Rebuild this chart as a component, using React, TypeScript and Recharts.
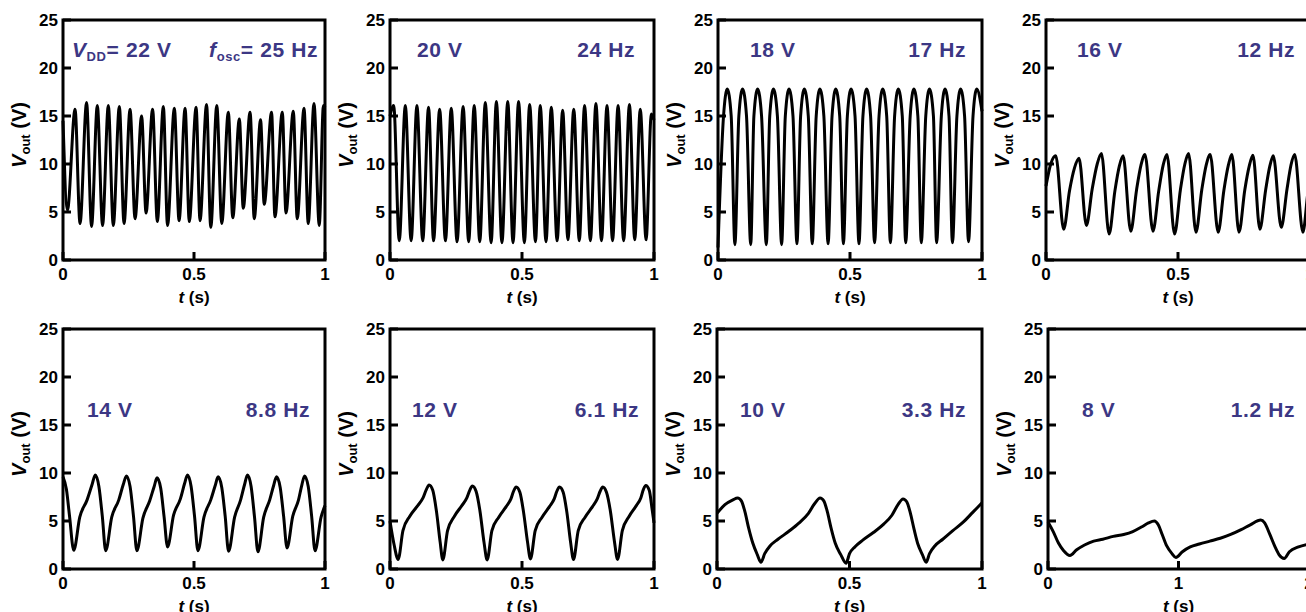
import React from "react";
import { LineChart, Line, XAxis, YAxis, ReferenceArea } from "recharts";

type Pt = [number, number];

// axis ticks
const yTicks = [0, 5, 10, 15, 20, 25];
const tTicks1 = [0, 0.5, 1];
const tTicks2 = [0, 1, 2];

// panel annotations
const vddLabels = ["22 V", "20 V", "18 V", "16 V", "14 V", "12 V", "10 V", "8 V"];
const foscLabels = ["25 Hz", "24 Hz", "17 Hz", "12 Hz", "8.8 Hz", "6.1 Hz", "3.3 Hz", "1.2 Hz"];

// Vout(t) traces, [t (s), V]
const v22: Pt[] = [
  [0, 14.5], [0.017, 5.2], [0.046, 15.7], [0.065, 3.8], [0.09, 16.4], [0.109, 3.5],
  [0.131, 16.1], [0.151, 3.6], [0.173, 16.1], [0.192, 3.6], [0.215, 16.0], [0.233, 3.8],
  [0.256, 15.7], [0.275, 4.3], [0.3, 15.0], [0.317, 4.9], [0.342, 15.7], [0.36, 4.0],
  [0.383, 16.0], [0.399, 3.6], [0.425, 15.8], [0.443, 4.1], [0.466, 15.8], [0.482, 4.0],
  [0.508, 15.9], [0.523, 4.1], [0.548, 16.2], [0.564, 3.4], [0.587, 16.1], [0.606, 3.8],
  [0.631, 15.4], [0.648, 4.4], [0.673, 14.7], [0.688, 5.4], [0.714, 15.4], [0.73, 4.3],
  [0.754, 14.6], [0.768, 5.8], [0.796, 15.4], [0.809, 4.5], [0.837, 15.4], [0.851, 4.9],
  [0.879, 15.5], [0.894, 4.3], [0.92, 15.8], [0.936, 3.8], [0.958, 16.3], [0.978, 3.6],
  [0.994, 16.1], [1.0, 15.9],
];

const v20: Pt[] = [
  [0, 15.0], [0.014, 16.1], [0.035, 2.0], [0.058, 16.1], [0.08, 2.0], [0.102, 16.1],
  [0.124, 2.0], [0.146, 15.9], [0.165, 2.0], [0.188, 15.7], [0.21, 2.0], [0.232, 15.8],
  [0.254, 1.9], [0.277, 16.0], [0.298, 1.9], [0.319, 16.1], [0.34, 1.9], [0.361, 16.4],
  [0.383, 1.8], [0.403, 16.5], [0.424, 1.8], [0.446, 16.5], [0.466, 1.8], [0.487, 16.5],
  [0.509, 1.8], [0.529, 16.2], [0.551, 1.9], [0.569, 16.1], [0.591, 1.9], [0.611, 15.9],
  [0.633, 2.0], [0.654, 15.6], [0.674, 2.1], [0.696, 15.7], [0.717, 2.0], [0.737, 16.1],
  [0.759, 2.0], [0.78, 16.3], [0.801, 2.0], [0.822, 16.1], [0.843, 2.0], [0.864, 16.1],
  [0.885, 2.0], [0.907, 16.2], [0.927, 2.1], [0.948, 15.7], [0.97, 2.1], [0.99, 15.2],
  [1.0, 14.6],
];

const v18: Pt[] = [
  [0, 1.3], [0.021, 15.0], [0.035, 17.8], [0.05, 15.0], [0.064, 1.6], [0.079, 15.0],
  [0.093, 17.8], [0.108, 15.0], [0.124, 1.6], [0.136, 15.0], [0.15, 17.8], [0.165, 15.0],
  [0.183, 1.6], [0.196, 15.0], [0.21, 17.8], [0.225, 15.0], [0.241, 1.6], [0.255, 15.0],
  [0.269, 17.8], [0.284, 15.0], [0.299, 1.7], [0.313, 15.0], [0.327, 17.8], [0.342, 15.0],
  [0.357, 1.7], [0.372, 15.0], [0.386, 17.8], [0.401, 15.0], [0.417, 1.7], [0.432, 15.0],
  [0.446, 17.8], [0.461, 15.0], [0.475, 1.7], [0.49, 15.0], [0.504, 17.8], [0.519, 15.0],
  [0.534, 1.7], [0.549, 15.0], [0.563, 17.8], [0.578, 15.0], [0.593, 1.8], [0.61, 15.0],
  [0.624, 17.8], [0.639, 15.0], [0.653, 1.8], [0.669, 15.0], [0.683, 17.8], [0.698, 15.0],
  [0.711, 1.8], [0.728, 15.0], [0.742, 17.8], [0.757, 15.0], [0.77, 1.8], [0.787, 15.0],
  [0.801, 17.8], [0.816, 15.0], [0.828, 1.8], [0.846, 15.0], [0.86, 17.8], [0.875, 15.0],
  [0.888, 1.8], [0.905, 15.0], [0.919, 17.8], [0.934, 15.0], [0.949, 1.9], [0.966, 15.0],
  [0.98, 17.8], [1.0, 15.5],
];

const v16: Pt[] = [
  [0, 7.7], [0.018, 10.0], [0.037, 10.85], [0.067, 3.2],
  [0.089, 7.2], [0.108, 9.6], [0.125, 10.6], [0.153, 3.6],
  [0.175, 7.4], [0.194, 10.0], [0.21, 11.1], [0.239, 2.7],
  [0.261, 7.2], [0.278, 9.8], [0.292, 10.85], [0.321, 3.0],
  [0.343, 7.3], [0.36, 9.9], [0.375, 11.0], [0.405, 3.0],
  [0.427, 7.2], [0.444, 9.9], [0.458, 11.0], [0.487, 2.7],
  [0.509, 7.3], [0.526, 10.0], [0.54, 11.1], [0.568, 2.9],
  [0.59, 7.3], [0.607, 9.9], [0.622, 11.0], [0.652, 2.9],
  [0.674, 7.3], [0.691, 9.9], [0.704, 11.0], [0.731, 2.9],
  [0.753, 7.3], [0.77, 9.8], [0.784, 10.9], [0.81, 3.2],
  [0.832, 7.3], [0.848, 9.8], [0.861, 10.85], [0.891, 3.4],
  [0.913, 7.4], [0.928, 9.9], [0.942, 11.0], [0.973, 2.9],
  [0.993, 7.2], [1.0, 8.2],
];

const v14: Pt[] = [
  [0, 9.6], [0.013, 8.3], [0.025, 5.5], [0.041, 1.95],
  [0.064, 5.4], [0.092, 7.2], [0.111, 8.8], [0.123, 9.8], [0.137, 8.6], [0.15, 5.5], [0.163, 1.9],
  [0.186, 5.4], [0.213, 7.2], [0.23, 8.8], [0.242, 9.7], [0.256, 8.6], [0.269, 5.5], [0.282, 1.9],
  [0.305, 5.3], [0.331, 7.1], [0.348, 8.6], [0.359, 9.5], [0.373, 8.4], [0.386, 5.4], [0.399, 2.3],
  [0.422, 5.6], [0.448, 7.3], [0.464, 8.9], [0.475, 9.8], [0.489, 8.6], [0.502, 5.5], [0.515, 1.9],
  [0.538, 5.4], [0.564, 7.2], [0.581, 8.7], [0.592, 9.6], [0.606, 8.5], [0.619, 5.5], [0.632, 1.85],
  [0.655, 5.4], [0.678, 7.2], [0.693, 8.8], [0.704, 9.8], [0.718, 8.6], [0.731, 5.4], [0.744, 1.8],
  [0.766, 5.4], [0.789, 7.2], [0.804, 8.7], [0.815, 9.6], [0.829, 8.5], [0.842, 5.5], [0.855, 2.2],
  [0.877, 5.5], [0.899, 7.2], [0.912, 8.8], [0.922, 9.7], [0.936, 8.6], [0.949, 5.5], [0.962, 1.9],
  [0.985, 5.4], [1.0, 6.6],
];

const v12: Pt[] = [
  [0, 5.0], [0.015, 2.6], [0.031, 1.0],
  [0.049, 4.0], [0.075, 5.5], [0.105, 6.6], [0.125, 7.4], [0.138, 8.3], [0.148, 8.75], [0.162, 8.2], [0.176, 6.0], [0.19, 2.8], [0.2, 0.95],
  [0.218, 4.0], [0.244, 5.5], [0.272, 6.6], [0.291, 7.4], [0.302, 8.2], [0.312, 8.65], [0.326, 8.1], [0.341, 6.0], [0.356, 2.8], [0.368, 0.95],
  [0.386, 4.0], [0.412, 5.4], [0.44, 6.5], [0.458, 7.3], [0.468, 8.1], [0.478, 8.55], [0.492, 8.0], [0.506, 5.9], [0.521, 2.8], [0.532, 1.05],
  [0.55, 4.0], [0.576, 5.4], [0.604, 6.5], [0.622, 7.3], [0.632, 8.1], [0.642, 8.55], [0.656, 8.0], [0.67, 5.9], [0.684, 2.8], [0.695, 1.0],
  [0.713, 4.0], [0.739, 5.4], [0.767, 6.5], [0.785, 7.3], [0.796, 8.1], [0.806, 8.55], [0.82, 8.0], [0.835, 6.0], [0.85, 2.9], [0.862, 1.0],
  [0.88, 4.0], [0.906, 5.5], [0.933, 6.6], [0.95, 7.4], [0.96, 8.3], [0.969, 8.7], [0.982, 8.2], [0.993, 6.2], [1.0, 4.8],
];

const v10: Pt[] = [
  [0, 5.8], [0.03, 6.7], [0.06, 7.2], [0.078, 7.4], [0.092, 7.1], [0.105, 6.0], [0.12, 4.2], [0.135, 2.7], [0.152, 1.5], [0.166, 0.7],
  [0.18, 1.6], [0.2, 2.4], [0.23, 3.1], [0.27, 3.9], [0.31, 4.8], [0.345, 5.8], [0.368, 6.8], [0.389, 7.4],
  [0.403, 7.1], [0.416, 6.0], [0.431, 4.2], [0.446, 2.7], [0.467, 1.5], [0.487, 0.6],
  [0.5, 1.6], [0.52, 2.3], [0.55, 3.0], [0.59, 3.8], [0.63, 4.7], [0.66, 5.6], [0.683, 6.7], [0.702, 7.3],
  [0.716, 7.0], [0.729, 5.9], [0.744, 4.1], [0.758, 2.6], [0.775, 1.5], [0.789, 0.7],
  [0.802, 1.6], [0.822, 2.4], [0.852, 3.1], [0.89, 4.0], [0.93, 4.9], [0.965, 5.9], [1.0, 6.9],
];

const v8: Pt[] = [
  [0, 4.9], [0.04, 3.9], [0.08, 2.7], [0.12, 1.9], [0.168, 1.4],
  [0.22, 2.0], [0.28, 2.5], [0.35, 2.9], [0.42, 3.1], [0.5, 3.4], [0.58, 3.6], [0.65, 3.9], [0.72, 4.4], [0.77, 4.8], [0.815, 5.0],
  [0.845, 4.6], [0.875, 3.6], [0.91, 2.4], [0.95, 1.6], [0.98, 1.2],
  [1.03, 1.8], [1.09, 2.3], [1.16, 2.6], [1.24, 2.9], [1.32, 3.2], [1.4, 3.6], [1.48, 4.1], [1.55, 4.6], [1.63, 5.1],
  [1.66, 4.8], [1.7, 3.6], [1.74, 2.3], [1.77, 1.5], [1.81, 1.1],
  [1.85, 1.8], [1.92, 2.3], [2.0, 2.6],
];

const traces = [v22, v20, v18, v16, v14, v12, v10, v8];

// plot rectangles on the page: left edge, top edge, width; label anchors
const layout = [
  { left: 63, top: 20, w: 262, lx: 72, rx: 318, by: 57 },
  { left: 390, top: 20, w: 264, lx: 417, rx: 635, by: 57 },
  { left: 718, top: 20, w: 264, lx: 750, rx: 966, by: 57 },
  { left: 1046, top: 20, w: 264, lx: 1077, rx: 1295, by: 57 },
  { left: 63, top: 329, w: 262, lx: 87, rx: 310, by: 417 },
  { left: 390, top: 329, w: 264, lx: 412, rx: 639, by: 417 },
  { left: 717, top: 329, w: 265, lx: 740, rx: 966, by: 417 },
  { left: 1048, top: 329, w: 261, lx: 1082, rx: 1295, by: 417 },
];

const INK = "#000";
const PURPLE = "#3c3784";
const FONT = "'Liberation Sans', Arial, sans-serif";
const tickLine = { stroke: INK, strokeWidth: 3 };
const tickFont = { fill: INK, fontSize: 17, fontWeight: 700 };

const XTitle = (props: any) => {
  const { x, y, width } = props.viewBox;
  return (
    <text x={x + width / 2} y={y + 43} textAnchor="middle" fontSize={17} fontWeight={700} fill={INK}>
      <tspan fontStyle="italic">t</tspan> (s)
    </text>
  );
};

const YTitle = (props: any) => {
  const { x, y, height } = props.viewBox;
  const cx = x + 16;
  const cy = y + height / 2 - 5;
  return (
    <text transform={`translate(${cx},${cy}) rotate(-90)`} x={0} y={7} textAnchor="middle" fontSize={20} fontWeight={700} fill={INK}>
      <tspan fontStyle="italic">V</tspan>
      <tspan fontSize={13} dy={4}>out</tspan>
      <tspan dy={-4}> (V)</tspan>
    </text>
  );
};

function Panel({ pts, left, top, w, xMax, xTicks }: any) {
  const data = pts.map(([t, v]: Pt) => ({ t, v }));
  return (
    <div style={{ position: "absolute", left: left - 60, top: top - 10 }}>
      <LineChart width={60 + w + 12} height={296} data={data} margin={{ top: 10, right: 12, bottom: 0, left: 0 }}>
        <XAxis
          dataKey="t"
          type="number"
          domain={[0, xMax]}
          ticks={xTicks}
          interval={0}
          height={46}
          axisLine={false}
          tickSize={-8}
          tickMargin={16}
          tickLine={tickLine}
          tick={tickFont}
          label={{ content: XTitle }}
        />
        <XAxis
          xAxisId="top"
          orientation="top"
          type="number"
          domain={[0, xMax]}
          ticks={xTicks}
          interval={0}
          height={0}
          axisLine={false}
          tickSize={-8}
          tickLine={tickLine}
          tick={false}
        />
        <YAxis
          type="number"
          domain={[0, 25]}
          ticks={yTicks}
          interval={0}
          width={60}
          axisLine={false}
          tickSize={-8}
          tickMargin={13}
          tickLine={tickLine}
          tick={tickFont}
          label={{ content: YTitle }}
        />
        <YAxis
          yAxisId="right"
          orientation="right"
          type="number"
          domain={[0, 25]}
          ticks={yTicks}
          interval={0}
          width={0}
          axisLine={false}
          tickSize={-8}
          tickLine={tickLine}
          tick={false}
        />
        <ReferenceArea x1={0} x2={xMax} y1={0} y2={25} fill="none" stroke={INK} strokeWidth={3} ifOverflow="visible" />
        <Line dataKey="v" type="monotone" stroke={INK} strokeWidth={3} dot={false} isAnimationActive={false} />
      </LineChart>
    </div>
  );
}

export default function App() {
  return (
    <div
      style={{
        position: "fixed",
        left: 0,
        top: 0,
        width: 1306,
        height: 612,
        overflow: "hidden",
        background: "#fff",
        fontFamily: FONT,
      }}
    >
      {traces.map((pts, i) => (
        <Panel
          key={i}
          pts={pts}
          left={layout[i].left}
          top={layout[i].top}
          w={layout[i].w}
          xMax={i === 7 ? 2 : 1}
          xTicks={i === 7 ? tTicks2 : tTicks1}
        />
      ))}
      <svg width={1306} height={612} style={{ position: "absolute", left: 0, top: 0, pointerEvents: "none" }}>
        <g fill={PURPLE} fontSize={21} fontWeight={700} letterSpacing={0.6} fontFamily={FONT}>
          {layout.map((p, i) =>
            i === 0 ? (
              <React.Fragment key={i}>
                <text x={p.lx} y={p.by}>
                  <tspan fontStyle="italic">V</tspan>
                  <tspan fontSize={13} dy={4}>DD</tspan>
                  <tspan dy={-4}>= {vddLabels[i]}</tspan>
                </text>
                <text x={p.rx} y={p.by} textAnchor="end">
                  <tspan fontStyle="italic">f</tspan>
                  <tspan fontSize={13} dy={4}>osc</tspan>
                  <tspan dy={-4}>= {foscLabels[i]}</tspan>
                </text>
              </React.Fragment>
            ) : (
              <React.Fragment key={i}>
                <text x={p.lx} y={p.by}>{vddLabels[i]}</text>
                <text x={p.rx} y={p.by} textAnchor="end">{foscLabels[i]}</text>
              </React.Fragment>
            )
          )}
        </g>
      </svg>
    </div>
  );
}
